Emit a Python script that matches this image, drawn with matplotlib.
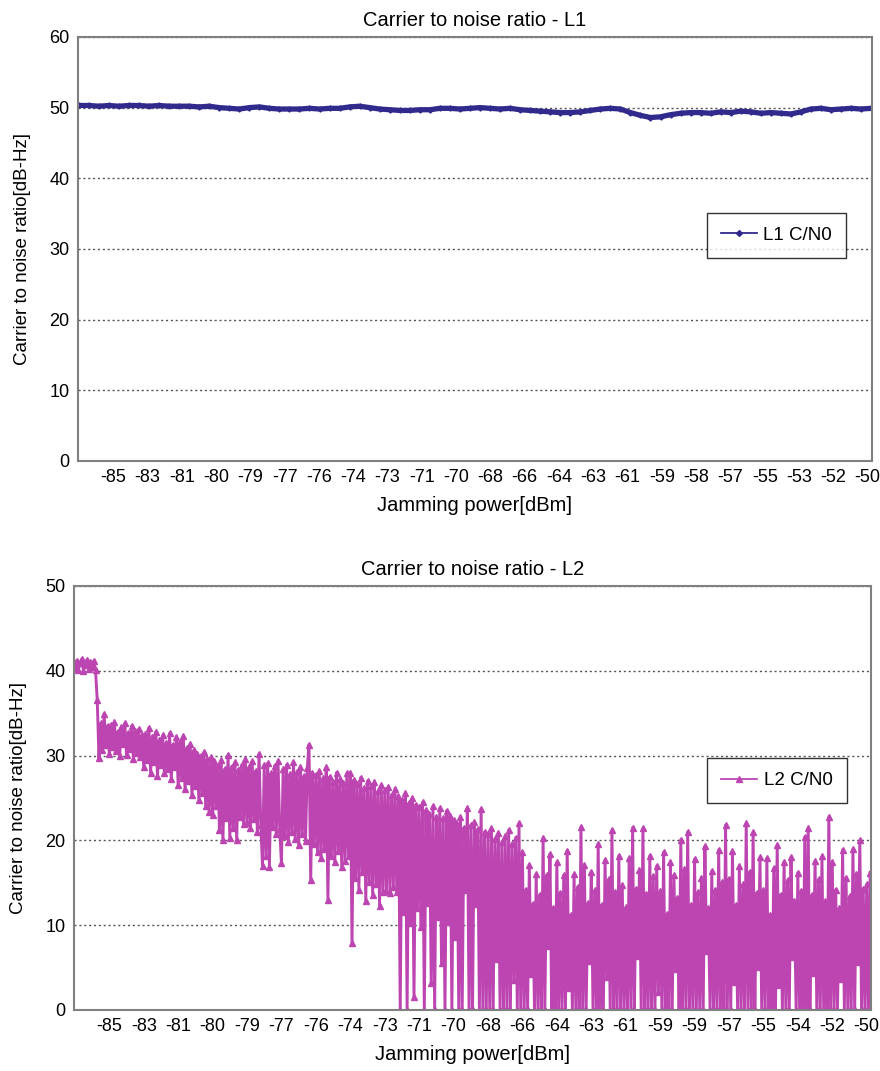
''' Carrier to noise ratio vs jamming power (L1 / L2) '''
import numpy as np
import matplotlib
matplotlib.use('Agg')
import matplotlib.pyplot as plt
from matplotlib.lines import Line2D

plt.rcParams['font.family'] = ['Liberation Sans', 'DejaVu Sans']

# x軸のラベル（カテゴリ軸，20サンプルごと）
labels_l1 = ['-85', '-83', '-81', '-80', '-79', '-77', '-76', '-74', '-73', '-71', '-70', '-68',
             '-66', '-64', '-63', '-61', '-59', '-58', '-57', '-55', '-53', '-52', '-50']
labels_l2 = ['-85', '-83', '-81', '-80', '-79', '-77', '-76', '-74', '-73', '-71', '-70', '-68',
             '-66', '-64', '-63', '-61', '-59', '-59', '-57', '-55', '-54', '-52', '-50']

# L1 C/N0 (ほぼ一定)
l1_cn0 = [50.3, 50.3, 50.2, 50.3, 50.2, 50.3, 50.3, 50.2, 50.3, 50.2, 50.2, 50.2, 50.1, 50.2,
          50.0, 49.9, 49.8, 50.0, 50.1, 49.9, 49.8, 49.8, 49.8, 49.9, 49.8, 49.9, 49.9, 50.1,
          50.2, 50.0, 49.8, 49.7, 49.6, 49.6, 49.7, 49.7, 49.9, 49.9, 49.8, 49.9, 50.0, 49.9,
          49.8, 49.9, 49.7, 49.6, 49.5, 49.4, 49.3, 49.3, 49.4, 49.6, 49.8, 49.9, 49.8, 49.3,
          48.9, 48.6, 48.7, 49.0, 49.2, 49.3, 49.3, 49.2, 49.4, 49.3, 49.5, 49.4, 49.2, 49.3,
          49.2, 49.1, 49.4, 49.8, 49.9, 49.7, 49.8, 49.9, 49.8, 49.9]

# L2 C/N0 (1行 = ラベル1区間)
l2_cn0 = [
    40.3, 41.2, 40.1, 40.9, 41.4, 40.0, 40.7, 41.3, 40.2, 41.0, 40.4, 41.2, 40.1, 36.5, 29.7, 33.8, 30.6, 34.9, 31.2, 33.5,
    30.2, 33.6, 31.0, 33.9, 30.5, 32.8, 29.9, 33.4, 31.4, 33.8, 30.1, 32.6, 30.8, 33.5, 29.6, 32.9, 30.3, 33.1, 29.8, 32.4,
    28.6, 32.5, 29.5, 33.3, 28.0, 32.2, 29.2, 32.8, 27.6, 31.8, 28.9, 32.4, 27.9, 31.5, 28.4, 32.6, 27.2, 31.3, 28.7, 32.2,
    26.5, 31.6, 27.4, 32.3, 26.0, 30.9, 27.0, 31.4, 25.3, 30.6, 26.4, 30.2, 24.8, 29.9, 25.6, 30.4, 24.0, 29.6, 23.4, 29.8,
    23.0, 29.4, 24.1, 28.8, 21.2, 29.5, 20.0, 28.4, 22.6, 30.1, 20.3, 28.7, 21.5, 29.2, 20.1, 28.3, 22.8, 28.9, 21.9, 29.6,
    22.1, 28.6, 21.4, 29.3, 22.5, 28.2, 21.0, 30.2, 21.8, 17.0, 28.9, 18.2, 29.1, 16.8, 27.9, 21.6, 28.8, 20.7, 29.4, 21.3,
    17.3, 28.4, 20.5, 28.9, 19.8, 27.8, 21.0, 29.2, 20.2, 28.1, 19.5, 28.7, 20.8, 27.6, 19.9, 28.5, 31.3, 15.3, 28.0, 19.6,
    27.7, 18.6, 28.2, 17.9, 27.3, 19.0, 28.6, 13.0, 27.5, 18.2, 26.9, 17.4, 28.0, 18.8, 27.2, 16.9, 26.8, 17.6, 27.9, 18.1,
    28.0, 7.9, 27.1, 15.6, 26.6, 14.2, 27.4, 16.3, 26.2, 12.8, 27.0, 15.1, 26.4, 13.5, 26.9, 14.8, 25.8, 12.3, 26.5, 13.9,
    25.9, 14.0, 26.3, 13.8, 25.4, 14.5, 26.1, 13.9, 25.2, 0.0, 24.8, 11.5, 25.6, 0.0, 24.4, 10.2, 25.0, 1.5, 24.2, 12.0,
    23.9, 9.8, 24.5, 0.0, 23.6, 12.6, 23.1, 3.2, 24.0, 0.0, 22.8, 11.0, 23.8, 5.5, 22.6, 0.0, 23.5, 10.4, 22.9, 0.0,
    22.4, 8.6, 21.9, 0.0, 22.7, 0.0, 21.5, 14.2, 23.8, 0.0, 21.8, 0.0, 22.2, 12.5, 21.3, 0.0, 23.7, 0.0, 21.0, 0.0,
    20.8, 0.0, 21.4, 0.0, 20.2, 6.0, 20.9, 0.0, 19.8, 0.0, 20.5, 0.0, 21.2, 0.0, 19.6, 3.5, 20.3, 0.0, 22.0, 0.0,
    18.6, 0.0, 14.2, 0.0, 17.1, 4.2, 12.5, 0.0, 16.0, 0.0, 13.6, 0.0, 20.3, 0.0, 15.9, 7.5, 18.4, 0.0, 12.0, 0.0,
    17.4, 0.0, 13.8, 0.0, 15.9, 0.0, 18.8, 2.6, 11.2, 0.0, 16.0, 0.0, 14.5, 0.0, 21.6, 0.0, 17.1, 0.0, 12.6, 5.8,
    16.3, 0.0, 14.1, 0.0, 19.6, 0.0, 12.4, 0.0, 17.7, 3.9, 15.4, 0.0, 21.2, 0.0, 13.9, 0.0, 18.2, 0.0, 14.7, 0.0,
    12.1, 0.0, 17.9, 0.0, 21.5, 0.0, 14.3, 6.4, 16.5, 0.0, 21.4, 0.0, 13.7, 0.0, 18.2, 0.0, 15.8, 0.0, 17.0, 2.1,
    14.0, 0.0, 18.6, 0.0, 11.3, 0.0, 17.5, 0.0, 15.9, 4.8, 13.2, 0.0, 20.1, 0.0, 16.6, 0.0, 21.0, 0.0, 12.4, 0.0,
    17.8, 0.0, 13.9, 0.0, 15.6, 0.0, 19.3, 7.0, 12.0, 0.0, 16.4, 0.0, 14.2, 0.0, 18.9, 0.0, 15.1, 0.0, 21.8, 0.0,
    15.5, 0.0, 18.7, 3.3, 12.4, 0.0, 17.0, 0.0, 14.8, 0.0, 22.0, 0.0, 16.3, 0.0, 21.0, 0.0, 13.8, 5.1, 18.0, 0.0,
    14.1, 0.0, 17.9, 0.0, 11.2, 0.0, 16.7, 0.0, 19.4, 2.9, 13.6, 0.0, 17.5, 0.0, 15.3, 0.0, 18.0, 6.3, 12.9, 0.0,
    16.2, 0.0, 14.0, 0.0, 20.4, 0.0, 21.4, 0.0, 13.5, 4.4, 17.6, 0.0, 15.4, 0.0, 18.1, 0.0, 12.8, 0.0, 22.8, 0.0,
    17.5, 0.0, 14.2, 0.0, 12.0, 3.7, 18.9, 0.0, 15.6, 0.0, 13.4, 0.0, 19.0, 0.0, 16.0, 5.6, 20.0, 0.0, 14.3, 0.0,
    14.8, 0.0, 16.2,
]

TICK_STEP = 20   # ラベル1つあたりのサンプル数
GRAY = '#808080'
L1_COLOR = '#302A8C'
L2_COLOR = '#BD45B2'
FS = 13


def main():
    fig = plt.figure(figsize=(8.8, 10.71), dpi=100)
    n = len(l2_cn0)

    ax1 = fig.add_axes([0.0886, 0.5696, 0.9023, 0.3959])
    x1 = np.linspace(0, n - 1, len(l1_cn0))
    ax1.plot(x1, l1_cn0, color=L1_COLOR, lw=3.8, marker='D', ms=2.6)
    style_axes(ax1, n, labels_l1, 60, 'Carrier to noise ratio - L1')
    add_legend(ax1, (0.880, 0.532), L1_COLOR, 'D', 3.0, 'L1 C/N0')

    ax2 = fig.add_axes([0.0841, 0.0570, 0.9057, 0.3959])
    ax2.plot(np.arange(n), l2_cn0, color=L2_COLOR, lw=2.1, marker='^', ms=5.0)
    style_axes(ax2, n, labels_l2, 50, 'Carrier to noise ratio - L2')
    add_legend(ax2, (0.882, 0.541), L2_COLOR, '^', 4.5, 'L2 C/N0')

    fig.savefig('out.png', dpi=100)


def style_axes(ax, n, labels, ymax, title):
    ax.set_xlim(-0.5, n - 0.5)
    ax.set_ylim(0, ymax)
    ax.set_yticks(range(0, ymax + 1, 10))
    ax.set_xticks([TICK_STEP * (i + 1) for i in range(len(labels))])
    ax.set_xticklabels(labels)
    ax.tick_params(length=0, labelsize=FS, pad=6, colors='black')
    ax.grid(axis='y', color='#555555', ls=(0, (1.5, 2)), lw=1)
    ax.set_axisbelow(True)
    for sp in ax.spines.values():
        sp.set_color(GRAY)
        sp.set_linewidth(1.5)
    ax.set_title(title, fontsize=14.5, pad=8)
    ax.set_xlabel('Jamming power[dBm]', fontsize=14.5, labelpad=7)
    ax.set_ylabel('Carrier to noise ratio[dB-Hz]', fontsize=13.5, labelpad=13)


def add_legend(ax, center, color, marker, ms, label):
    # 凡例は細い線＋小さいマーカー
    handle = Line2D([], [], color=color, lw=1.3, marker=marker, ms=ms)
    leg = ax.legend([handle], [label], loc='center', bbox_to_anchor=center,
                    fontsize=13.5, frameon=True, fancybox=False, handlelength=1.9,
                    borderpad=0.75, handletextpad=0.35, borderaxespad=0)
    leg.get_frame().set_edgecolor('black')
    leg.get_frame().set_linewidth(1.0)


if __name__ == "__main__":
    main()
